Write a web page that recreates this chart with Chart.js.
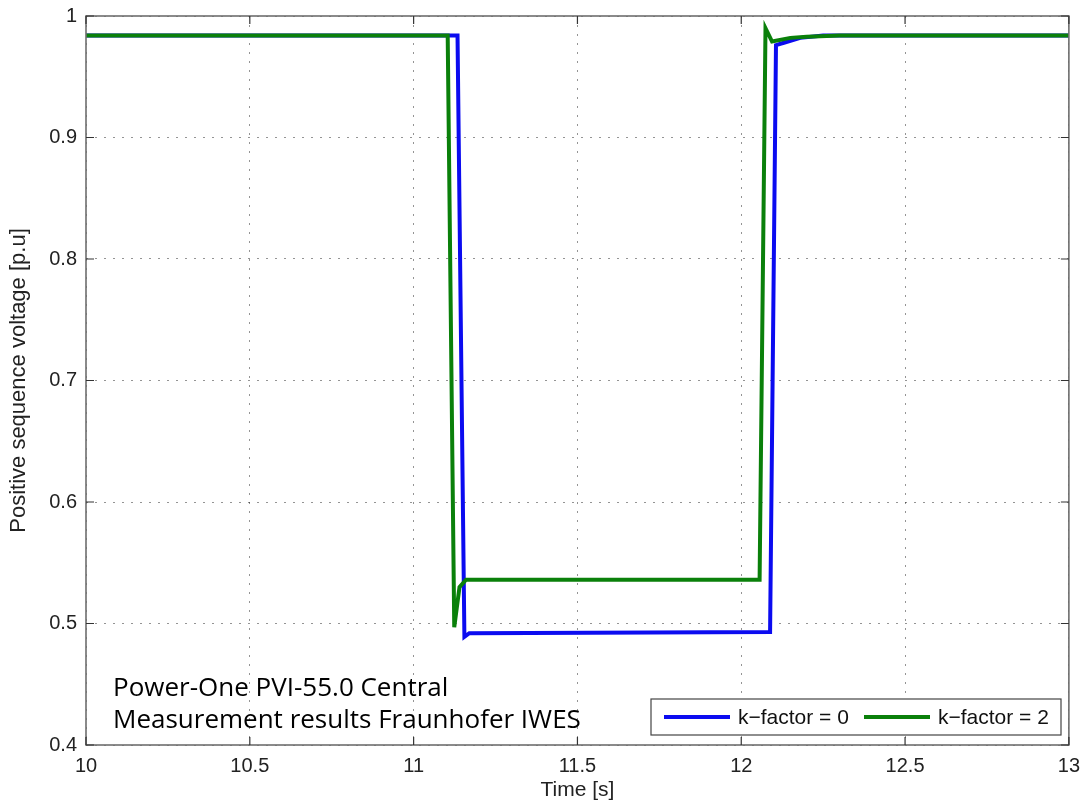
<!DOCTYPE html>
<html>
<head>
  <title>Positive sequence voltage</title>
  <script src="https://cdn.jsdelivr.net/npm/chart.js"></script>
  <style>
    html, body { margin: 0; padding: 0; background: #fff; }
    #wrap { width: 1089px; height: 803px; }
  </style>
</head>
<body>
  <div id="wrap"><canvas id="voltChart" width="1089" height="803"></canvas></div>

  <script>
    // values
    const timeK0 = [10, 11.134, 11.155, 11.17, 12.088, 12.106, 12.13, 12.18, 12.25, 13];
    const voltK0 = [0.984, 0.984, 0.489, 0.492, 0.493, 0.976, 0.978, 0.982, 0.984, 0.984];

    const timeK2 = [10, 11.104, 11.124, 11.14, 11.16, 12.056, 12.074, 12.094, 12.15, 12.2, 12.3, 13];
    const voltK2 = [0.984, 0.984, 0.497, 0.53, 0.536, 0.536, 0.990, 0.979, 0.982, 0.983, 0.984, 0.984];

    const xTicks = [10, 10.5, 11, 11.5, 12, 12.5, 13];
    const yTicks = [0.4, 0.5, 0.6, 0.7, 0.8, 0.9, 1];

    const seriesLabels = ['k\u2212factor = 0', 'k\u2212factor = 2'];
    const noteLines = ['Power-One PVI-55.0 Central', 'Measurement results Fraunhofer IWES'];

    const BLUE = '#0b0bf0';
    const GREEN = '#0a800a';
    const AXIS = '#6e6e6e';
    const SANS = '"Liberation Sans", Arial, sans-serif';

    function toPoints(xs, ys) {
      return xs.map((x, i) => ({ x, y: ys[i] }));
    }

    // box, inward ticks, legend and note (matlab style)
    const matlabLook = {
      id: 'matlabLook',
      afterDatasetsDraw(chart) {
        const ctx = chart.ctx;
        const a = chart.chartArea;
        const xs = chart.scales.x, ys = chart.scales.y;
        ctx.save();
        ctx.strokeStyle = AXIS;
        ctx.lineWidth = 1.6;
        ctx.strokeRect(a.left, a.top, a.right - a.left, a.bottom - a.top);

        ctx.strokeStyle = '#333';
        ctx.lineWidth = 1.2;
        const len = 8;
        xTicks.forEach(v => {
          const px = xs.getPixelForValue(v);
          ctx.beginPath();
          ctx.moveTo(px, a.bottom); ctx.lineTo(px, a.bottom - len);
          ctx.moveTo(px, a.top); ctx.lineTo(px, a.top + len);
          ctx.stroke();
        });
        yTicks.forEach(v => {
          const py = ys.getPixelForValue(v);
          ctx.beginPath();
          ctx.moveTo(a.left, py); ctx.lineTo(a.left + len, py);
          ctx.moveTo(a.right, py); ctx.lineTo(a.right - len, py);
          ctx.stroke();
        });

        // legend box
        const bx = 651, by = 699, bw = 410, bh = 36;
        ctx.fillStyle = '#fff';
        ctx.fillRect(bx, by, bw, bh);
        ctx.strokeStyle = '#444';
        ctx.lineWidth = 1.2;
        ctx.strokeRect(bx, by, bw, bh);
        ctx.font = '21px ' + SANS;
        ctx.textBaseline = 'middle';
        ctx.fillStyle = '#111';
        const cols = [BLUE, GREEN];
        const starts = [664, 864];
        chart.data.datasets.forEach((ds, i) => {
          const sx = starts[i], sy = by + bh / 2;
          ctx.strokeStyle = cols[i];
          ctx.lineWidth = 4;
          ctx.beginPath();
          ctx.moveTo(sx, sy); ctx.lineTo(sx + 66, sy);
          ctx.stroke();
          ctx.fillText(ds.label, sx + 74, sy + 1);
        });

        // note text
        ctx.font = '26px "Open Sans", "Noto Sans", sans-serif';
        ctx.textBaseline = 'alphabetic';
        ctx.fillStyle = '#000';
        ctx.fillText(noteLines[0], 113, 696);
        ctx.fillText(noteLines[1], 113, 728);
        ctx.restore();
      }
    };

    const tickFont = { family: SANS, size: 20 };

    new Chart(document.getElementById('voltChart'), {
      type: 'line',
      data: {
        datasets: [
          { label: seriesLabels[0], data: toPoints(timeK0, voltK0), borderColor: BLUE,
            borderWidth: 4, pointRadius: 0, tension: 0, order: 1 },
          { label: seriesLabels[1], data: toPoints(timeK2, voltK2), borderColor: GREEN,
            borderWidth: 4, pointRadius: 0, tension: 0, order: 0 }
        ]
      },
      options: {
        responsive: false,
        animation: false,
        layout: { padding: { left: 0, right: 19, top: 16, bottom: 0 } },
        plugins: { legend: { display: false }, tooltip: { enabled: false } },
        scales: {
          x: {
            type: 'linear', min: 10, max: 13,
            afterBuildTicks: s => { s.ticks = xTicks.map(v => ({ value: v })); },
            afterFit: s => { s.height = 58; },
            ticks: { color: '#222', font: tickFont, padding: 9, maxRotation: 0,
                     callback: v => String(v) },
            grid: { color: 'rgba(0,0,0,0.42)', lineWidth: 1, drawTicks: false },
            border: { display: false, dash: [2, 7] },
            title: { display: true, text: 'Time [s]', color: '#222',
                     font: { family: SANS, size: 21 }, padding: 0 }
          },
          y: {
            min: 0.4, max: 1,
            afterBuildTicks: s => { s.ticks = yTicks.map(v => ({ value: v })); },
            afterFit: s => { s.width = 86; s.paddingTop = 0; s.paddingBottom = 0; },
            ticks: { color: '#222', font: tickFont, padding: 9,
                     callback: v => String(Math.round(v * 10) / 10) },
            grid: { color: 'rgba(0,0,0,0.42)', lineWidth: 1, drawTicks: false },
            border: { display: false, dash: [2, 7] },
            title: { display: true, text: 'Positive sequence voltage [p.u]', color: '#222',
                     font: { family: SANS, size: 22 }, padding: { top: 6, bottom: 0 } }
          }
        }
      },
      plugins: [matlabLook]
    });
  </script>
</body>
</html>
